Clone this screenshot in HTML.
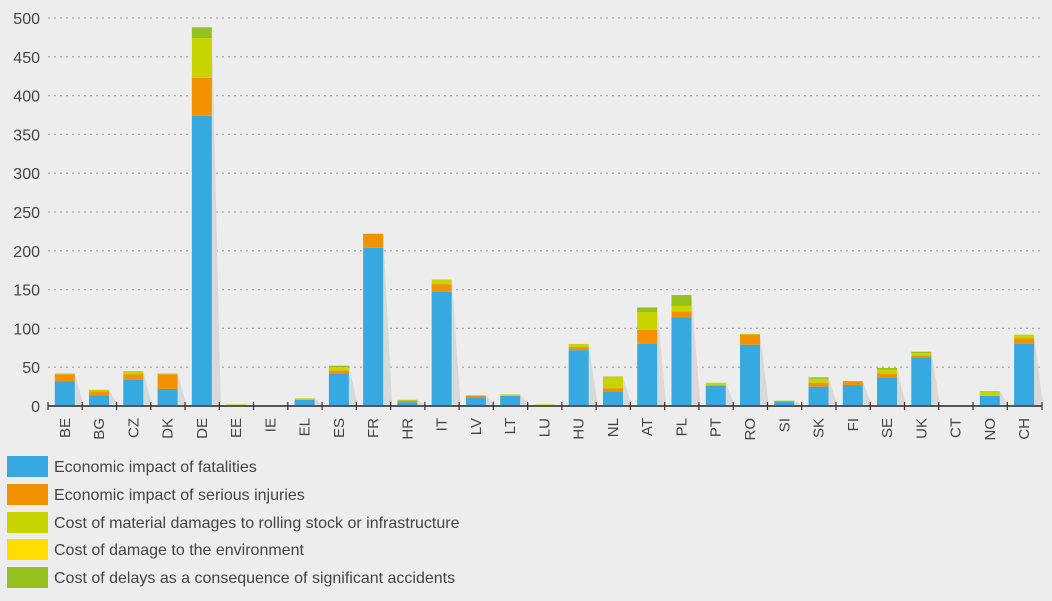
<!DOCTYPE html><html><head><meta charset="utf-8"><style>
body{margin:0;background:#ededed;width:1052px;height:596px;overflow:hidden;font-family:"Liberation Sans",sans-serif}
</style></head><body>
<svg width="1052" height="596" xmlns="http://www.w3.org/2000/svg" font-family="Liberation Sans, sans-serif">
<rect width="1052" height="596" fill="#ededed"/>
<g id="grid" stroke="#aaa" stroke-width="1.3" stroke-dasharray="2,4"></g>
<g id="yl" fill="#444" font-size="16" text-anchor="end"></g>
<g id="bars"></g>
<line x1="48" y1="406" x2="1042" y2="406" stroke="#555" stroke-width="2"/>
<g id="ticks" stroke="#333" stroke-width="1.2"></g>
<g id="xl" fill="#444" font-size="15"></g>
<g font-size="16" fill="#444">
<rect x="7" y="456" width="41" height="21" fill="#36a9e0"/><text x="54" y="472">Economic impact of fatalities</text>
<rect x="7" y="484" width="41" height="21" fill="#f39200"/><text x="54" y="500">Economic impact of serious injuries</text>
<rect x="7" y="512" width="41" height="21" fill="#c8d400"/><text x="54" y="528">Cost of material damages to rolling stock or infrastructure</text>
<rect x="7" y="539" width="41" height="21" fill="#ffdd00"/><text x="54" y="555">Cost of damage to the environment</text>
<rect x="7" y="567" width="41" height="21" fill="#95c11f"/><text x="54" y="583">Cost of delays as a consequence of significant accidents</text>
</g>
</svg>
<script>
const ns="http://www.w3.org/2000/svg";
function el(p,t,a,txt){const e=document.createElementNS(ns,t);for(const k in a)e.setAttribute(k,a[k]);if(txt!=null)e.textContent=txt;document.getElementById(p).appendChild(e);}
const Y=v=>406-v*0.776;
for(let v=0;v<=500;v+=50){if(v>0)el('grid','line',{x1:48,x2:1042,y1:Y(v),y2:Y(v)});el('yl','text',{x:40,y:Y(v)+6},v);}
const d=[["BE",32,41,42,42],["BG",14,19,21,21],["CZ",34,41,45,45],["DK",22,41,42,42],["DE",374,423,474,488],["EE",1,1,2,2],["IE",0,0,0,0],["EL",8,8,10,10],["ES",42,46,50,52],["FR",204,222,222,222],["HR",5,7,8,8],["IT",147,157,163,163],["LV",11,13,14,14],["LT",13,13,15,15],["LU",1,1,2,2],["HU",72,76,80,80],["NL",19,23,37,38],["AT",80,98,121,127],["PL",114,122,129,143],["PT",26,27,30,30],["RO",79,92,93,93],["SI",6,6,7,7],["SK",25,30,35,37],["FI",27,32,32,32],["SE",37,42,47,49],["UK",63,65,68,70],["CT",0,0,0,0],["NO",13,13,18,19],["CH",80,87,92,92]];
const cols=["#36a9e0","#f39200","#c8d400","#95c11f"];
const sp=34.26;
d.forEach((r,i)=>{const t=48+i*sp;const x=t+6.8;const w=20;
 if(r[4]>0){el('bars','polygon',{points:`${x+w},${Y(r[4])} ${x+w+9},406 ${x+w},406`,fill:'#d9d9d9'});}
 let prev=0;for(let k=0;k<4;k++){const v=r[k+1];if(v>prev){el('bars','rect',{x:x,y:Y(v),width:w,height:Y(prev)-Y(v),fill:cols[k]});}prev=Math.max(prev,v);}
 el('ticks','line',{x1:t,x2:t,y1:402,y2:410});
 const cx=x+w/2+5;el('xl','text',{transform:`translate(${cx},418) rotate(-90)`,'text-anchor':'end'},r[0]);
});
el('ticks','line',{x1:1042,x2:1042,y1:402,y2:410});
</script>
</body></html>
